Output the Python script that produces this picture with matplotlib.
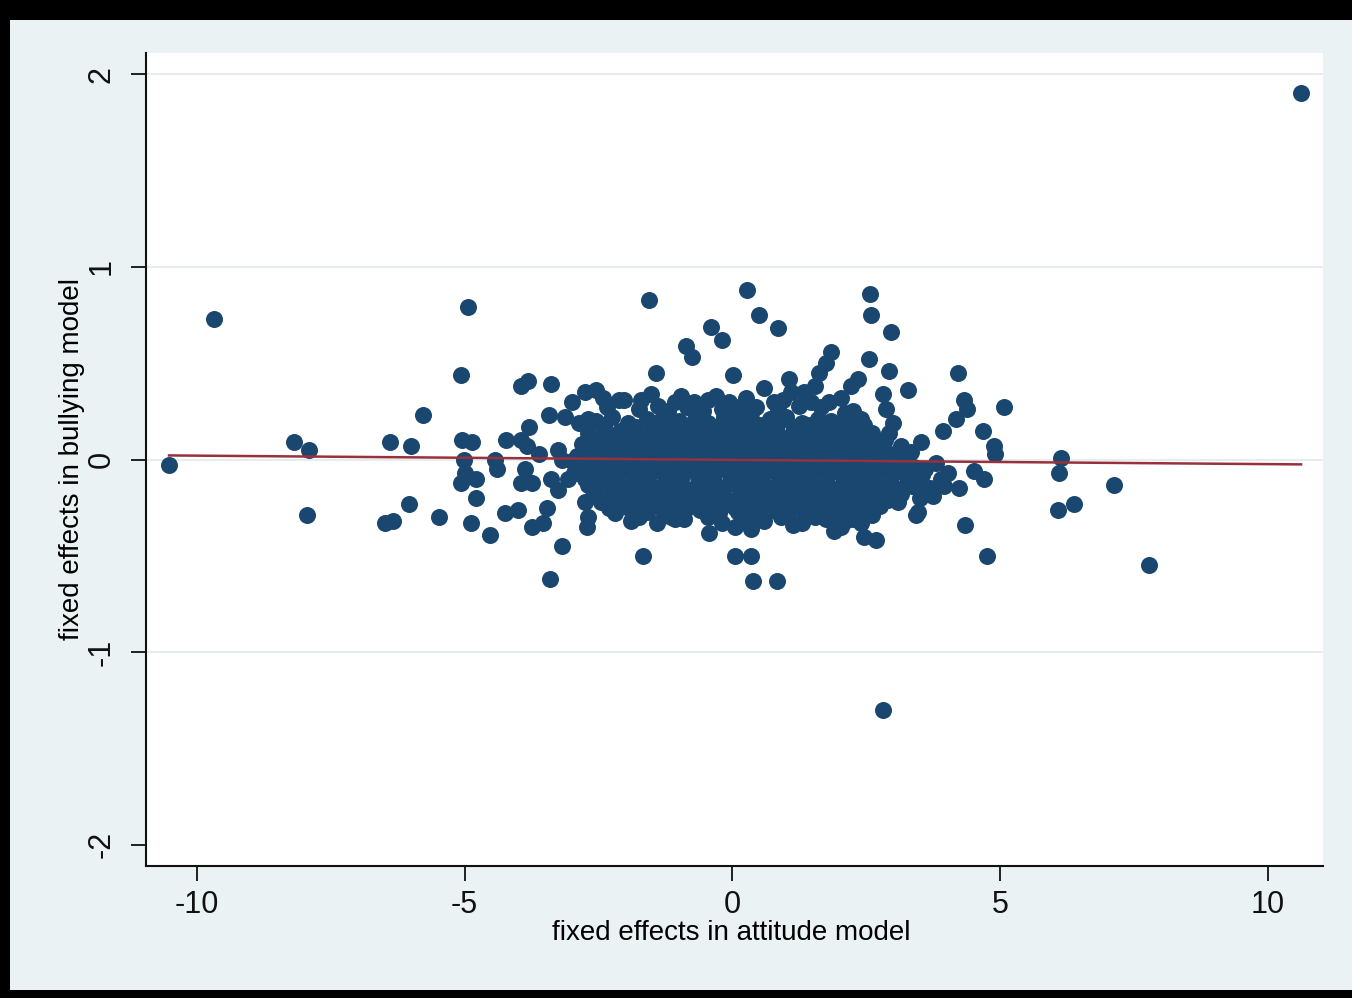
import numpy as np
import matplotlib
matplotlib.use("Agg")
import matplotlib.pyplot as plt
from matplotlib.patches import Rectangle

plt.rcParams['font.family'] = ['Liberation Sans Narrow', 'Liberation Sans', 'DejaVu Sans']

NAVY = '#1a476f'
MAROON = '#98313b'
PANEL = '#eaf2f3'

# isolated points (x = attitude fixed effect, y = bullying fixed effect)
outer_pts = [
    (10.62, 1.90), (-10.52, -0.03), (-9.68, 0.73), (-8.19, 0.09), (-7.91, 0.05), (-7.95, -0.29),
    (-6.49, -0.33), (-6.34, -0.32), (-6.40, 0.09), (-6.01, 0.07), (-6.03, -0.23), (-5.78, 0.23),
    (-5.47, -0.30), (-5.07, 0.44), (-4.93, 0.79), (-5.04, 0.10), (-4.87, 0.09),
    (-1.55, 0.83), (0.28, 0.88), (2.57, 0.86), (2.82, -1.30), (7.78, -0.55), (7.13, -0.13),
    (6.38, -0.23), (6.08, -0.26), (6.14, 0.01), (6.10, -0.07), (5.07, 0.27), (4.89, 0.07),
    (4.91, 0.03), (4.76, -0.50), (4.35, -0.34), (4.22, 0.45), (4.33, 0.31), (4.38, 0.26),
    (4.68, 0.15), (4.18, 0.21), (3.94, 0.15),
]

# points above the main cloud
upper_pts = [
    (-0.39, 0.69), (-0.19, 0.62), (-0.86, 0.59), (-0.75, 0.53), (0.02, 0.44), (0.50, 0.75),
    (0.86, 0.68), (2.59, 0.75), (2.97, 0.66), (-1.42, 0.45), (1.85, 0.56), (1.75, 0.50),
    (1.62, 0.45), (2.56, 0.52), (2.93, 0.46), (3.28, 0.36), (2.35, 0.42), (2.22, 0.38),
    (-2.03, 0.31), (-1.70, 0.31), (-1.51, 0.34), (-1.38, 0.28), (-1.08, 0.30), (-0.71, 0.30),
    (-0.45, 0.31), (-0.07, 0.30), (0.17, 0.28), (0.35, 0.24), (0.60, 0.37), (0.78, 0.30),
    (1.06, 0.42), (1.10, 0.35), (0.86, 0.26), (1.34, 0.35), (1.47, 0.30), (1.81, 0.30),
    (2.03, 0.32), (2.26, 0.25), (2.41, 0.21), (2.82, 0.34), (2.87, 0.26), (3.00, 0.19),
    (2.93, 0.14), (3.53, 0.09), (3.15, 0.07), (3.34, 0.04),
    (-2.35, 0.27), (-1.75, 0.26), (-1.20, 0.25), (-0.85, 0.27), (-0.55, 0.25), (-0.20, 0.26),
    (0.10, 0.25), (0.45, 0.27), (1.25, 0.28), (1.65, 0.27), (2.10, 0.24), (-0.95, 0.33),
    (-0.30, 0.33), (0.25, 0.32), (1.55, 0.38), (0.95, 0.31),
]

# left wing of the cloud
left_pts = [
    (-3.94, 0.38), (-3.81, 0.41), (-3.38, 0.39), (-3.00, 0.30), (-2.76, 0.35), (-2.54, 0.36),
    (-2.41, 0.32), (-2.11, 0.31), (-3.43, 0.23), (-3.13, 0.22), (-2.87, 0.19), (-2.69, 0.21),
    (-3.79, 0.17), (-3.94, 0.10), (-4.22, 0.10), (-3.84, 0.07), (-3.62, 0.03), (-3.25, 0.05),
    (-3.19, 0.00), (-4.44, 0.00), (-4.40, -0.05), (-5.02, 0.00), (-5.00, -0.07), (-5.06, -0.12),
    (-4.79, -0.10), (-3.88, -0.05), (-3.94, -0.12), (-3.75, -0.12), (-3.38, -0.10), (-3.25, -0.16),
    (-3.06, -0.10), (-2.87, -0.07), (-2.76, -0.04), (-4.78, -0.20), (-4.25, -0.28), (-4.00, -0.26),
    (-3.47, -0.25), (-4.88, -0.33), (-4.53, -0.39), (-3.75, -0.35), (-3.53, -0.33), (-2.76, -0.22),
    (-2.69, -0.30), (-2.72, -0.35), (-3.19, -0.45), (-3.41, -0.62),
]

# below the cloud and its right edge
lower_pts = [
    (-1.08, -0.31), (-0.43, -0.38), (0.04, -0.35), (0.35, -0.36), (-1.83, -0.28), (-1.66, -0.50),
    (0.04, -0.50), (0.35, -0.50), (0.39, -0.63), (0.84, -0.63), (1.14, -0.34), (2.03, -0.35),
    (1.90, -0.37), (2.46, -0.40), (2.69, -0.42), (3.47, -0.27), (3.10, -0.22),
    (3.60, -0.05), (3.80, -0.02), (3.90, -0.10), (3.70, -0.15), (3.50, -0.20), (4.03, -0.07),
    (3.96, -0.14), (3.75, -0.19), (4.24, -0.15), (3.43, -0.29), (4.51, -0.06), (4.70, -0.10),
]

# dense core
core_pts = [
    (-2.55, 0.20), (-2.25, 0.22), (-1.95, 0.19), (-1.60, 0.21), (-1.30, 0.22), (-1.00, 0.20),
    (-0.70, 0.21), (-0.45, 0.19), (-0.15, 0.22), (0.15, 0.20), (0.40, 0.19), (0.70, 0.21),
    (1.00, 0.22), (1.30, 0.19), (1.60, 0.21), (1.85, 0.20), (2.15, 0.18),
    (-2.70, 0.14), (-2.40, 0.16), (-2.10, 0.15), (-1.85, 0.13), (-1.50, 0.15), (-1.20, 0.16),
    (-0.90, 0.14), (-0.60, 0.15), (-0.30, 0.13), (0.00, 0.16), (0.30, 0.14), (0.60, 0.15),
    (0.85, 0.13), (1.15, 0.16), (1.45, 0.14), (1.70, 0.15), (2.00, 0.13), (2.30, 0.16), (2.60, 0.14),
    (-2.80, 0.08), (-2.50, 0.10), (-2.20, 0.09), (-1.90, 0.07), (-1.60, 0.09), (-1.30, 0.10),
    (-1.05, 0.08), (-0.75, 0.09), (-0.45, 0.07), (-0.20, 0.10), (0.10, 0.08), (0.35, 0.09),
    (0.65, 0.10), (0.95, 0.08), (1.25, 0.09), (1.55, 0.07), (1.80, 0.10), (2.10, 0.08),
    (2.40, 0.09), (2.70, 0.07),
    (-2.90, 0.02), (-2.60, 0.04), (-2.30, 0.03), (-2.00, 0.01), (-1.70, 0.03), (-1.40, 0.04),
    (-1.10, 0.02), (-0.80, 0.03), (-0.55, 0.01), (-0.25, 0.04), (0.05, 0.02), (0.30, 0.03),
    (0.60, 0.04), (0.90, 0.02), (1.20, 0.03), (1.45, 0.01), (1.75, 0.04), (2.05, 0.02),
    (2.35, 0.03), (2.65, 0.01), (2.95, 0.03),
    (-2.85, -0.04), (-2.55, -0.02), (-2.25, -0.03), (-1.95, -0.05), (-1.65, -0.03), (-1.35, -0.02),
    (-1.05, -0.04), (-0.75, -0.03), (-0.45, -0.05), (-0.15, -0.02), (0.15, -0.04), (0.45, -0.03),
    (0.75, -0.02), (1.05, -0.04), (1.35, -0.03), (1.65, -0.05), (1.95, -0.02), (2.25, -0.04),
    (2.55, -0.03), (2.85, -0.05), (3.10, -0.02), (3.40, -0.04),
    (-2.75, -0.10), (-2.45, -0.08), (-2.15, -0.09), (-1.85, -0.11), (-1.55, -0.09), (-1.25, -0.08),
    (-0.95, -0.10), (-0.65, -0.09), (-0.35, -0.11), (-0.05, -0.08), (0.25, -0.10), (0.55, -0.09),
    (0.85, -0.08), (1.15, -0.10), (1.45, -0.09), (1.75, -0.11), (2.05, -0.08), (2.35, -0.10),
    (2.65, -0.09), (2.95, -0.11), (3.25, -0.08),
    (-2.60, -0.16), (-2.30, -0.14), (-2.00, -0.15), (-1.70, -0.17), (-1.40, -0.15), (-1.10, -0.14),
    (-0.80, -0.16), (-0.50, -0.15), (-0.20, -0.17), (0.10, -0.14), (0.40, -0.16), (0.70, -0.15),
    (1.00, -0.14), (1.30, -0.16), (1.60, -0.15), (1.90, -0.17), (2.20, -0.14), (2.50, -0.16),
    (2.80, -0.15), (3.10, -0.17), (3.35, -0.14),
    (-2.45, -0.22), (-2.15, -0.20), (-1.85, -0.21), (-1.55, -0.23), (-1.25, -0.21), (-0.95, -0.20),
    (-0.65, -0.22), (-0.35, -0.21), (-0.05, -0.23), (0.25, -0.20), (0.55, -0.22), (0.85, -0.21),
    (1.15, -0.20), (1.45, -0.22), (1.75, -0.21), (2.05, -0.23), (2.35, -0.20), (2.65, -0.22),
    (2.90, -0.21),
    (-2.20, -0.28), (-1.90, -0.26), (-1.60, -0.27), (-1.25, -0.29), (-0.90, -0.27), (-0.60, -0.26),
    (-0.25, -0.28), (0.10, -0.27), (0.45, -0.29), (0.75, -0.26), (1.05, -0.28), (1.40, -0.27),
    (1.70, -0.26), (2.00, -0.28), (2.30, -0.27), (2.60, -0.29),
    (-1.90, -0.32), (-1.40, -0.33), (-0.90, -0.31), (-0.20, -0.33), (0.25, -0.31), (0.60, -0.32),
    (1.30, -0.33), (1.75, -0.31), (2.10, -0.32), (2.40, -0.33),
]

# second layer of the core, sitting in the gaps of the first
core_fill_pts = [
    (-2.40, 0.18), (-1.80, 0.17), (-1.45, 0.19), (-1.15, 0.18), (-0.85, 0.17), (-0.55, 0.18),
    (-0.30, 0.17), (0.00, 0.19), (0.25, 0.17), (0.55, 0.18), (0.85, 0.19), (1.15, 0.17),
    (1.45, 0.18), (1.95, 0.17), (2.45, 0.18),
    (-2.65, 0.11), (-2.35, 0.12), (-2.05, 0.11), (-1.75, 0.12), (-1.45, 0.11), (-1.15, 0.12),
    (-0.90, 0.11), (-0.60, 0.12), (-0.35, 0.11), (-0.05, 0.12), (0.20, 0.11), (0.50, 0.12),
    (0.80, 0.11), (1.10, 0.12), (1.40, 0.11), (1.65, 0.12), (1.95, 0.11), (2.25, 0.12),
    (2.55, 0.11), (2.85, 0.10),
    (-2.75, 0.05), (-2.45, 0.06), (-2.15, 0.05), (-1.85, 0.04), (-1.55, 0.06), (-1.25, 0.05),
    (-0.95, 0.06), (-0.65, 0.05), (-0.40, 0.04), (-0.10, 0.06), (0.20, 0.05), (0.45, 0.06),
    (0.75, 0.05), (1.05, 0.06), (1.35, 0.04), (1.60, 0.05), (1.90, 0.06), (2.20, 0.05),
    (2.50, 0.04), (2.80, 0.05), (3.10, 0.03),
    (-3.00, -0.01), (-2.70, 0.00), (-2.40, -0.01), (-2.10, 0.00), (-1.80, -0.01), (-1.50, 0.00),
    (-1.20, -0.01), (-0.90, 0.00), (-0.60, -0.01), (-0.30, 0.00), (0.00, -0.01), (0.30, 0.00),
    (0.60, -0.01), (0.90, 0.00), (1.20, -0.01), (1.50, 0.00), (1.80, -0.01), (2.10, 0.00),
    (2.40, -0.01), (2.70, 0.00), (3.00, -0.01), (3.25, 0.00),
    (-2.95, -0.07), (-2.70, -0.06), (-2.40, -0.07), (-2.10, -0.06), (-1.80, -0.07), (-1.50, -0.06),
    (-1.20, -0.07), (-0.90, -0.06), (-0.60, -0.07), (-0.30, -0.06), (0.00, -0.07), (0.30, -0.06),
    (0.60, -0.07), (0.90, -0.06), (1.20, -0.07), (1.50, -0.06), (1.80, -0.07), (2.10, -0.06),
    (2.40, -0.07), (2.70, -0.06), (3.00, -0.07), (3.30, -0.06), (3.55, -0.08),
    (-2.70, -0.13), (-2.45, -0.12), (-2.15, -0.13), (-1.85, -0.12), (-1.55, -0.13), (-1.25, -0.12),
    (-0.95, -0.13), (-0.65, -0.12), (-0.35, -0.13), (-0.05, -0.12), (0.25, -0.13), (0.55, -0.12),
    (0.85, -0.13), (1.15, -0.12), (1.45, -0.13), (1.75, -0.12), (2.05, -0.13), (2.35, -0.12),
    (2.65, -0.13), (2.95, -0.12), (3.25, -0.13), (3.50, -0.12),
    (-2.55, -0.19), (-2.25, -0.18), (-1.95, -0.19), (-1.65, -0.18), (-1.35, -0.19), (-1.05, -0.18),
    (-0.75, -0.19), (-0.45, -0.18), (-0.15, -0.19), (0.15, -0.18), (0.45, -0.19), (0.75, -0.18),
    (1.05, -0.19), (1.35, -0.18), (1.65, -0.19), (1.95, -0.18), (2.25, -0.19), (2.55, -0.18),
    (2.85, -0.19), (3.15, -0.18),
    (-2.30, -0.25), (-2.00, -0.24), (-1.70, -0.25), (-1.40, -0.24), (-1.10, -0.25), (-0.80, -0.24),
    (-0.50, -0.25), (-0.20, -0.24), (0.05, -0.25), (0.35, -0.24), (0.65, -0.25), (0.95, -0.24),
    (1.25, -0.25), (1.55, -0.24), (1.85, -0.25), (2.15, -0.24), (2.45, -0.25), (2.75, -0.24),
    (-1.75, -0.30), (-1.15, -0.30), (-0.45, -0.30), (0.35, -0.30), (0.90, -0.30), (1.55, -0.30),
    (1.95, -0.30), (2.25, -0.31),
]

# linear fit
fit_intercept = -0.002
fit_slope = -0.0022

x_ticks = [-10, -5, 0, 5, 10]
y_ticks = [-2, -1, 0, 1, 2]
y_grid = [-1, 0, 1, 2]

pts = np.array(outer_pts + upper_pts + left_pts + lower_pts + core_pts + core_fill_pts)
x, y = pts[:, 0], pts[:, 1]

fig = plt.figure(figsize=(13.52, 9.98), dpi=100, facecolor='black')
panel = Rectangle((10 / 1352, 8 / 998), 1.0, 970 / 998, transform=fig.transFigure,
                  facecolor=PANEL, edgecolor='none', zorder=-10)
fig.add_artist(panel)

ax = fig.add_axes([146 / 1352, 1 - 866 / 998, (1323 - 146) / 1352, (866 - 53) / 998])
ax.set_zorder(1)
ax.set_facecolor('white')

for g in y_grid:
    ax.axhline(g, color='#e3eaec', lw=1.2, zorder=1)

ax.scatter(x, y, s=150, color=NAVY, linewidths=0, zorder=3)

fx = np.array([x.min(), x.max()])
ax.plot(fx, fit_intercept + fit_slope * fx, color=MAROON, lw=1.8, zorder=4)

ax.set_xlim(-10.95, 11.03)
ax.set_ylim(-2.11, 2.11)
ax.set_xticks(x_ticks)
ax.set_yticks(y_ticks)
ax.set_xticklabels([str(t) for t in x_ticks])
ax.set_yticklabels([str(t) for t in y_ticks], rotation=90, va='center')

for s in ['top', 'right']:
    ax.spines[s].set_visible(False)
for s in ['left', 'bottom']:
    ax.spines[s].set_color('#111111')
    ax.spines[s].set_linewidth(1.5)

ax.tick_params(axis='both', length=11, width=1.3, color='#111111', labelsize=22,
               labelcolor='#111111')
ax.tick_params(axis='x', pad=6)
ax.tick_params(axis='y', pad=10)

ax.set_xlabel('fixed effects in attitude model', fontsize=20, va='center')
ax.xaxis.set_label_coords(0.497, -0.082)
ax.set_ylabel('fixed effects in bullying model', fontsize=20, va='center')
ax.yaxis.set_label_coords(-0.063, 0.5)

fig.savefig('out.png', dpi=100, facecolor=fig.get_facecolor())
